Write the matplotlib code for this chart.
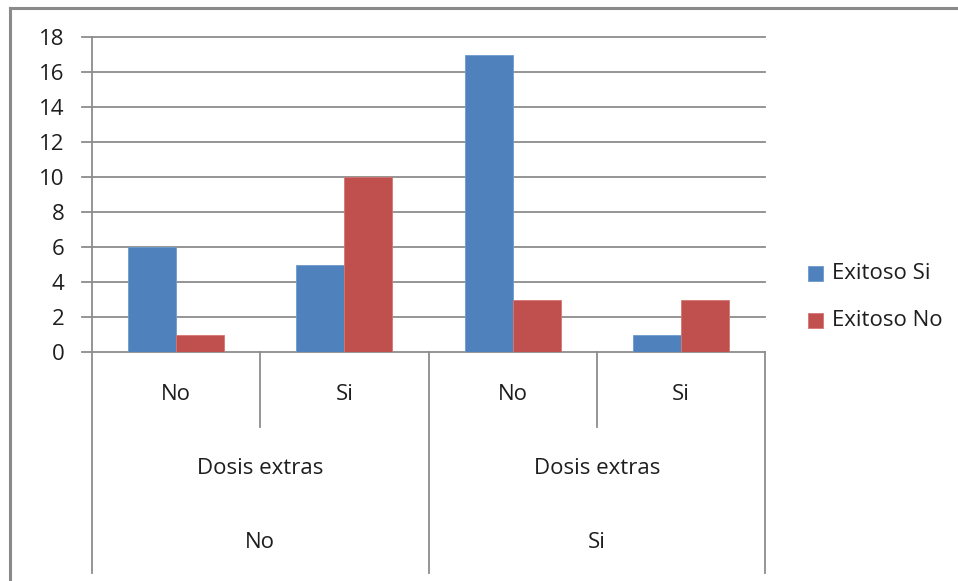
import matplotlib
matplotlib.use("Agg")
import matplotlib.pyplot as plt
from matplotlib.lines import Line2D
from matplotlib.patches import Rectangle
import matplotlib.transforms as mtransforms

plt.rcParams['font.family'] = ['Open Sans', 'DejaVu Sans']

# Data
inner_labels = ["No", "Si", "No", "Si"]
middle_labels = ["Dosis extras", "Dosis extras"]
outer_labels = ["No", "Si"]
series_names = ["Exitoso Si", "Exitoso No"]
exitoso_si = [6, 5, 17, 1]
exitoso_no = [1, 10, 3, 3]
y_ticks = [0, 2, 4, 6, 8, 10, 12, 14, 16, 18]

BLUE = "#4F81BD"
RED = "#C0504D"
BLUE_EDGE = "#6E9AD0"
RED_EDGE = "#D77471"
GRID = "#8C8C8C"
TEXT = "#1E1E1E"
FS = 16

W, H = 958, 581
fig = plt.figure(figsize=(W / 100, H / 100), dpi=100)

def fx(px):
    return px / W

def fy(py):
    return 1 - py / H

# Plot area in pixel coordinates
left, right, top, bottom = 92, 765, 37, 352
ax = fig.add_axes([fx(left), fy(bottom), fx(right) - fx(left), fy(top) - fy(bottom)])

n = len(inner_labels)
x = list(range(n))
bar_w = 1 / 3.5
ax.bar([i - bar_w / 2 for i in x], exitoso_si, width=bar_w, color=BLUE,
       edgecolor=BLUE_EDGE, linewidth=0.6, zorder=3)
ax.bar([i + bar_w / 2 for i in x], exitoso_no, width=bar_w, color=RED,
       edgecolor=RED_EDGE, linewidth=0.6, zorder=3)

ax.set_xlim(-0.5, n - 0.5)
ax.set_ylim(0, 18)
for s in ax.spines.values():
    s.set_visible(False)
ax.set_xticks([])
ax.set_yticks(y_ticks)
ax.set_yticklabels([str(v) for v in y_ticks], fontsize=FS, color=TEXT)
ax.tick_params(axis="y", length=0, pad=20)

# horizontal gridlines extending left of the axis as tick marks
trans_xa = mtransforms.blended_transform_factory(ax.transAxes, ax.transData)
tick_ext = (left - 82) / (right - left)
for v in y_ticks:
    ax.add_line(Line2D([-tick_ext, 1], [v, v], transform=trans_xa, color=GRID,
                       linewidth=1.3, clip_on=False, zorder=1))

# multi-level category axis
trans_dx = mtransforms.blended_transform_factory(ax.transData, ax.transAxes)
ph = bottom - top

def ay(py):
    return (bottom - py) / ph

ax.add_line(Line2D([-0.5, -0.5], [1, ay(573)], transform=trans_dx, color=GRID,
                   linewidth=1.3, clip_on=False))
for b in [0.5, 2.5]:
    ax.add_line(Line2D([b, b], [0, ay(427)], transform=trans_dx, color=GRID,
                       linewidth=1.3, clip_on=False))
for b in [1.5, 3.5]:
    ax.add_line(Line2D([b, b], [0, ay(573)], transform=trans_dx, color=GRID,
                       linewidth=1.3, clip_on=False))

for i, lab in enumerate(inner_labels):
    ax.text(i, ay(395), lab, transform=trans_dx, ha="center", va="center",
            fontsize=FS, color=TEXT)
for j, lab in enumerate(middle_labels):
    ax.text(2 * j + 0.5, ay(468), lab, transform=trans_dx, ha="center",
            va="center", fontsize=FS, color=TEXT)
for j, lab in enumerate(outer_labels):
    ax.text(2 * j + 0.5, ay(543), lab, transform=trans_dx, ha="center",
            va="center", fontsize=FS, color=TEXT)

# legend
legend_items = [(series_names[0], BLUE, BLUE_EDGE, 273.5),
                (series_names[1], RED, RED_EDGE, 320.5)]
for name, fc, ec, cy in legend_items:
    fig.add_artist(Rectangle((fx(808), fy(cy + 7.5)), fx(15), 15 / H,
                             transform=fig.transFigure, facecolor=fc,
                             edgecolor=ec, linewidth=0.6))
    fig.text(fx(832), fy(cy), name, ha="left", va="center", fontsize=FS,
             color=TEXT)

# chart frame (top and left edges)
fig.add_artist(Line2D([fx(10), fx(10)], [fy(8), 0], transform=fig.transFigure,
                      color="#8A8A8A", linewidth=2.2))
fig.add_artist(Line2D([fx(10), 1], [fy(8), fy(8)], transform=fig.transFigure,
                      color="#8A8A8A", linewidth=2.2))

fig.savefig("out.png", dpi=100, facecolor="white")
